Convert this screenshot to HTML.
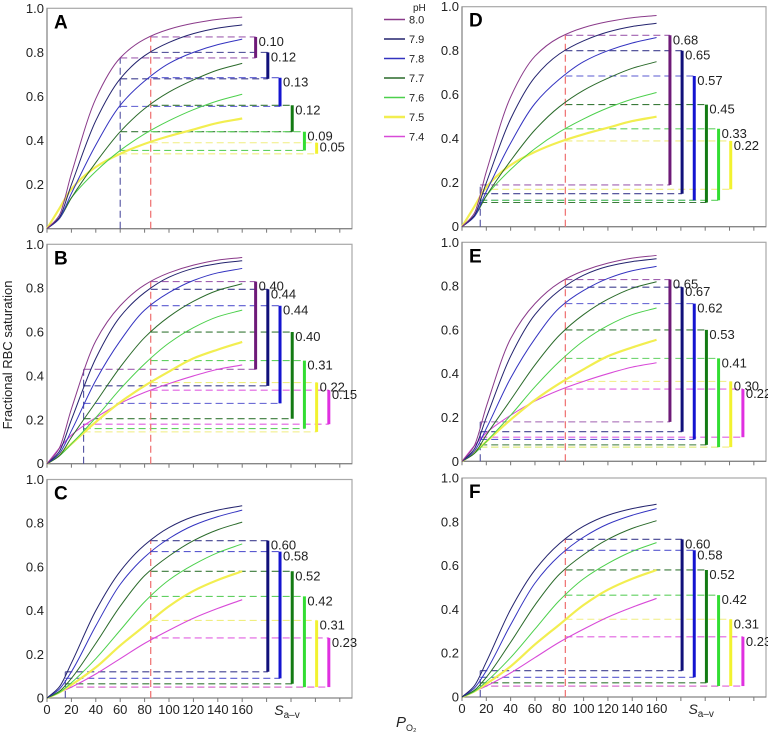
<!DOCTYPE html>
<html><head><meta charset="utf-8">
<style>
html,body{margin:0;padding:0;background:#fff;}
svg{display:block;font-family:"Liberation Sans",Arial,sans-serif;}
</style></head>
<body>
<svg id="chart" width="768" height="737" viewBox="0 0 768 737"></svg>
<script>
// ---- data ----
const phLabels = ["8.0","7.9","7.8","7.7","7.6","7.5","7.4"];
const curveX = [0,10,20,40,60,80,100,120,140,160];
// curve set 1 (panels A, D)
const set1_80 = [0,0.06,0.25,0.59,0.775,0.86,0.905,0.932,0.95,0.96];
const set1_79 = [0,0.05,0.2,0.49,0.68,0.785,0.845,0.885,0.91,0.925];
const set1_78 = [0,0.045,0.16,0.38,0.56,0.67,0.75,0.80,0.835,0.86];
const set1_77 = [0,0.045,0.14,0.30,0.44,0.545,0.62,0.675,0.72,0.75];
const set1_76 = [0,0.05,0.14,0.26,0.355,0.43,0.49,0.54,0.58,0.61];
const set1_75 = [0,0.09,0.18,0.28,0.34,0.385,0.42,0.45,0.48,0.50];
// curve set 2 (panels B, E)
const set2_80 = [0,0.07,0.25,0.56,0.72,0.815,0.87,0.905,0.928,0.94];
const set2_79 = [0,0.055,0.2,0.48,0.67,0.78,0.85,0.89,0.912,0.925];
const set2_78 = [0,0.045,0.15,0.38,0.56,0.70,0.78,0.835,0.87,0.89];
const set2_77 = [0,0.035,0.12,0.28,0.44,0.575,0.67,0.74,0.79,0.82];
const set2_76 = [0,0.035,0.09,0.21,0.34,0.455,0.55,0.62,0.67,0.70];
const set2_75 = [0,0.04,0.09,0.19,0.28,0.355,0.42,0.48,0.52,0.555];
const set2_74 = [0,0.07,0.13,0.21,0.275,0.325,0.365,0.40,0.43,0.45];
// curve set 3 (panels C, F)
const set3_79 = [0,0.05,0.16,0.40,0.58,0.70,0.78,0.83,0.86,0.88];
const set3_78 = [0,0.04,0.12,0.33,0.52,0.645,0.73,0.79,0.83,0.86];
const set3_77 = [0,0.03,0.09,0.25,0.42,0.56,0.65,0.72,0.77,0.805];
const set3_76 = [0,0.025,0.07,0.18,0.31,0.44,0.54,0.61,0.665,0.705];
const set3_75 = [0,0.025,0.06,0.14,0.24,0.33,0.42,0.49,0.54,0.58];
const set3_74 = [0,0.025,0.05,0.11,0.18,0.25,0.31,0.365,0.41,0.45];
// arterial / venous saturations and S(a-v) labels per panel
const saA=[0.87,0.80,0.685,0.56,0.44,0.39], svA=[0.775,0.68,0.555,0.44,0.355,0.34], lbA=["0.10","0.12","0.13","0.12","0.09","0.05"];
const saB=[0.83,0.795,0.72,0.60,0.47,0.37,0.335], svB=[0.43,0.355,0.275,0.205,0.16,0.145,0.18], lbB=["0.40","0.44","0.44","0.40","0.31","0.22","0.15"];
const saC=[0.72,0.67,0.58,0.465,0.355,0.275], svC=[0.12,0.09,0.065,0.05,0.05,0.05], lbC=["0.60","0.58","0.52","0.42","0.31","0.23"];
const saD=[0.87,0.80,0.685,0.555,0.445,0.39], svD=[0.19,0.15,0.12,0.11,0.12,0.17], lbD=["0.68","0.65","0.57","0.45","0.33","0.22"];
const saE=[0.83,0.795,0.72,0.60,0.47,0.365,0.33], svE=[0.18,0.135,0.10,0.075,0.065,0.065,0.11], lbE=["0.65","0.67","0.62","0.53","0.41","0.30","0.22"];
const saF=[0.72,0.67,0.58,0.465,0.355,0.275], svF=[0.12,0.09,0.065,0.05,0.05,0.05], lbF=["0.60","0.58","0.52","0.42","0.31","0.23"];
const venousPO2 = [60,30,15,15,15,15]; // A..F
const arterialPO2 = 85;
const yTicks=[0,0.2,0.4,0.6,0.8,1.0], yTickLabels=["0","0.2","0.4","0.6","0.8","1.0"];
const xTicks=[0,20,40,60,80,100,120,140,160,180,200,220,240], xTickLabels=["0","20","40","60","80","100","120","140","160","","","",""];

// ---- style ----
const curveCol=["#8a3a8a","#23236e","#3333c0","#2a6a2a","#4cd04c","#f2ee50","#d84ad8"];
const barCol=["#6e1a78","#10107a","#1414d0","#137a13","#33dd33","#f2f230","#e030e0"];
const dashCol=["#a060b0","#404090","#5a5ad0","#3a7a3a","#60d060","#f0ee80","#e060e0"];
const curveW=[1,1,1,1,1,2.2,1.1];

const svg=document.getElementById('chart');
const NS="http://www.w3.org/2000/svg";
function mk(tag,attrs,parent){const e=document.createElementNS(NS,tag);for(const k in attrs)e.setAttribute(k,attrs[k]);(parent||svg).appendChild(e);return e;}

const panels=[
 {id:"A",curves:[set1_80,set1_79,set1_78,set1_77,set1_76,set1_75],start:0,sa:saA,sv:svA,lb:lbA,x0:47,x1:352,yb:228.7,yt:8.3,bottom:false},
 {id:"B",curves:[set2_80,set2_79,set2_78,set2_77,set2_76,set2_75,set2_74],start:0,sa:saB,sv:svB,lb:lbB,x0:47,x1:352,yb:463.7,yt:244.3,bottom:false},
 {id:"C",curves:[set3_79,set3_78,set3_77,set3_76,set3_75,set3_74],start:1,sa:saC,sv:svC,lb:lbC,x0:47,x1:352,yb:698,yt:479.5,bottom:true},
 {id:"D",curves:[set1_80,set1_79,set1_78,set1_77,set1_76,set1_75],start:0,sa:saD,sv:svD,lb:lbD,x0:462,x1:766,yb:226.7,yt:6.7,bottom:false},
 {id:"E",curves:[set2_80,set2_79,set2_78,set2_77,set2_76,set2_75,set2_74],start:0,sa:saE,sv:svE,lb:lbE,x0:462,x1:766,yb:461.3,yt:242.3,bottom:false},
 {id:"F",curves:[set3_79,set3_78,set3_77,set3_76,set3_75,set3_74],start:1,sa:saF,sv:svF,lb:lbF,x0:462,x1:766,yb:697,yt:478,bottom:true}
];

// monotone cubic (Fritsch–Carlson) path through data points in data space
function monoPath(xs,ys,sx,sy){
  const n=xs.length, d=[], m=new Array(n);
  for(let i=0;i<n-1;i++) d.push((ys[i+1]-ys[i])/(xs[i+1]-xs[i]));
  m[0]=d[0]; m[n-1]=d[n-2];
  for(let i=1;i<n-1;i++){
    if(d[i-1]*d[i]<=0) m[i]=0;
    else { const h0=xs[i]-xs[i-1], h1=xs[i+1]-xs[i];
      const w1=2*h1+h0, w2=h1+2*h0; m[i]=(w1+w2)/(w1/d[i-1]+w2/d[i]); }
  }
  let s="M"+sx(xs[0]).toFixed(2)+","+sy(ys[0]).toFixed(2);
  for(let i=0;i<n-1;i++){
    const h=xs[i+1]-xs[i];
    const c1x=xs[i]+h/3, c1y=ys[i]+m[i]*h/3, c2x=xs[i+1]-h/3, c2y=ys[i+1]-m[i+1]*h/3;
    s+=" C"+sx(c1x).toFixed(2)+","+sy(c1y).toFixed(2)+" "+sx(c2x).toFixed(2)+","+sy(c2y).toFixed(2)+" "+sx(xs[i+1]).toFixed(2)+","+sy(ys[i+1]).toFixed(2);
  }
  return s;
}

panels.forEach((p,pi)=>{
  const g=mk('g',{});
  
  
  const sx=v=>p.x0+v*(p.x1-p.x0)/250;
  const sy=v=>p.yb-v*(p.yb-p.yt);
  const fr=mk('rect',{x:p.x0,y:p.yt,width:p.x1-p.x0,height:p.yb-p.yt,fill:"none",stroke:"#a8a8a8","stroke-width":1.2},g);
  
  
  mk('line',{x1:p.x0,y1:p.yt,x2:p.x0,y2:p.yb,stroke:"#777","stroke-width":1},g);
  mk('line',{x1:p.x0,y1:p.yb,x2:p.x1,y2:p.yb,stroke:"#777","stroke-width":1},g);
  yTicks.forEach((t,i)=>{
    const tx=mk('text',{x:p.x0-3,y:sy(t)+4.5,"text-anchor":"end","font-size":"13",fill:"#222"},g);
    tx.textContent=yTickLabels[i];
    
    
  });
  xTicks.forEach((t,i)=>{
    mk('line',{x1:sx(t),y1:p.yb,x2:sx(t),y2:p.yb+4,stroke:"#777","stroke-width":1},g);
    if(p.bottom && xTickLabels[i]){
      const tx=mk('text',{x:sx(t),y:p.yb+16,"text-anchor":"middle","font-size":"13",fill:"#222"},g);
      tx.textContent=xTickLabels[i];
      
      
    }
  });
  if(p.bottom){
    const st=mk('text',{x:sx(200)-4,y:p.yb+17,"font-size":"14",fill:"#222","text-anchor":"middle"},g);
    st.innerHTML='<tspan font-style="italic">S</tspan><tspan font-size="10" dy="3">a–v</tspan>';
    
    
  }
  const lt=mk('text',{x:p.x0+7,y:p.yt+20,"font-size":"19","font-weight":"bold",fill:"#000"},g);
  lt.textContent=p.id;
  
  

  const n=p.curves.length;
  const vx=venousPO2[pi];
  for(let i=0;i<n;i++){
    const k=p.start+i;
    const bx=sx(171+10*k);
    const h1=mk('line',{x1:sx(arterialPO2),y1:sy(p.sa[i]),x2:bx,y2:sy(p.sa[i]),stroke:dashCol[k],"stroke-width":1.1,"stroke-dasharray":"7,4"},g);
    
    
    const h2=mk('line',{x1:sx(vx),y1:sy(p.sv[i]),x2:bx,y2:sy(p.sv[i]),stroke:dashCol[k],"stroke-width":1.1,"stroke-dasharray":"7,4"},g);
    
    
  }
  const vtop=Math.max(...p.sv), atop=Math.max(...p.sa);
  const vv=mk('line',{x1:sx(vx),y1:p.yb,x2:sx(vx),y2:sy(vtop),stroke:"#5050a0","stroke-width":1.1,"stroke-dasharray":"7,4"},g);
  
  
  const av=mk('line',{x1:sx(arterialPO2),y1:p.yb,x2:sx(arterialPO2),y2:sy(atop),stroke:"#f07878","stroke-width":1.3,"stroke-dasharray":"7,4"},g);
  
  
  for(let i=n-1;i>=0;i--){
    const k=p.start+i;
    const c=mk('path',{d:monoPath(curveX,p.curves[i],sx,sy),fill:"none",stroke:curveCol[k],"stroke-width":curveW[k]},g);
    
    
  }
  for(let i=0;i<n;i++){
    const k=p.start+i;
    const bx=sx(171+10*k);
    const b=mk('line',{x1:bx,y1:sy(p.sa[i]),x2:bx,y2:sy(p.sv[i]),stroke:barCol[k],"stroke-width":3},g);
    
    
    const t=mk('text',{x:bx+3,y:sy(p.sa[i])+9,"font-size":"13",fill:"#222"},g);
    t.textContent=p.lb[i];
    
    
  }
});

const lg=mk('g',{});


const lh=mk('text',{x:413,y:11,"font-size":"10",fill:"#222"},lg);
lh.textContent="pH";


phLabels.forEach((ph,k)=>{
  const y=19.5+k*19.5;
  const l=mk('line',{x1:384,y1:y,x2:405,y2:y,stroke:curveCol[k],"stroke-width":k==5?2.5:1.5},lg);
  
  
  const t=mk('text',{x:409,y:y+4,"font-size":"11",fill:"#222"},lg);
  t.textContent=ph;
  
  
});

const yt=mk('text',{x:0,y:0,"font-size":"13",fill:"#222","text-anchor":"middle",transform:"translate(12,355) rotate(-90)"});
yt.textContent="Fractional RBC saturation";


const xt=mk('text',{x:396,y:727,"font-size":"15",fill:"#222"});
xt.innerHTML='<tspan font-style="italic">P</tspan><tspan font-size="9" dy="4">O₂</tspan>';


</script>
</body></html>
